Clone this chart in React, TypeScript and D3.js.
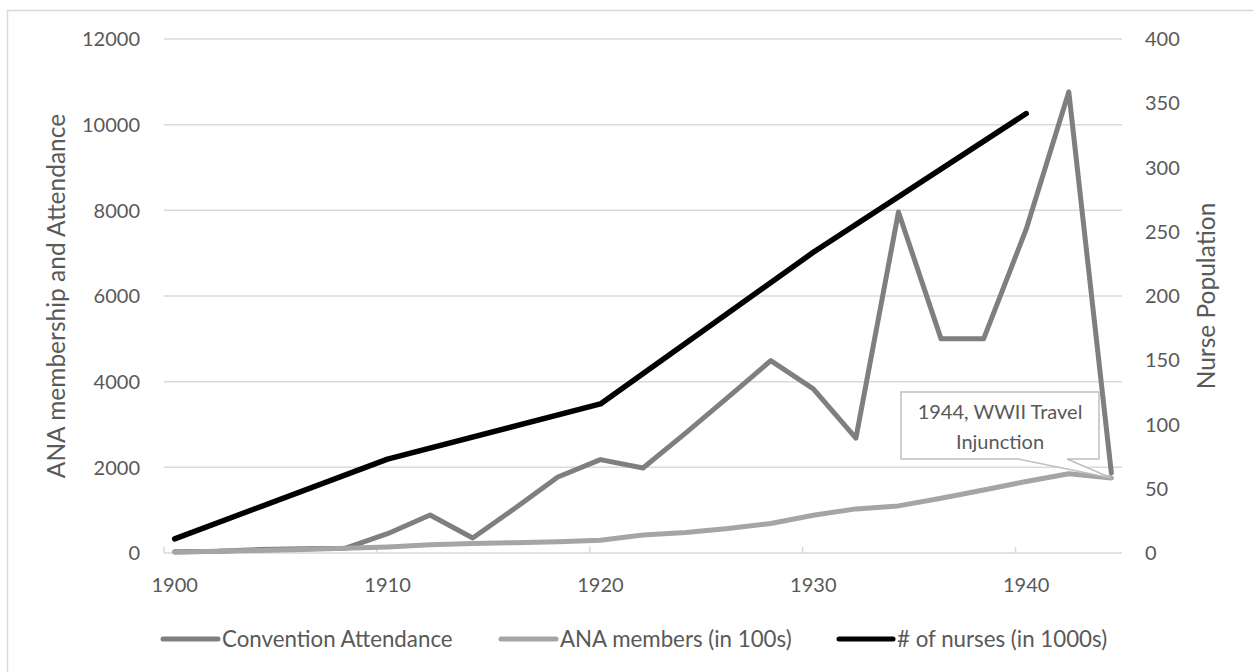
import React from "react";
import * as d3 from "d3";

const years = [1900, 1902, 1904, 1906, 1908, 1910, 1912, 1914, 1916, 1918, 1920, 1922, 1924, 1926, 1928, 1930, 1932, 1934, 1936, 1938, 1940, 1942, 1944];
const conventionAttendance = [30, 40, 80, 100, 110, 450, 887, 350, 1050, 1775, 2180, 1985, 2800, 3640, 4490, 3830, 2680, 7960, 5000, 5000, 7560, 10765, 1870];
const anaMembers = [20, 40, 60, 80, 110, 140, 190, 220, 240, 260, 300, 420, 480, 570, 690, 880, 1030, 1100, 1280, 1470, 1670, 1850, 1750];
const nurseYears = [1900, 1910, 1920, 1930, 1940];
const nurses = [11, 73, 116, 234, 342];

const leftTicks = [0, 2000, 4000, 6000, 8000, 10000, 12000];
const rightTicks = [0, 50, 100, 150, 200, 250, 300, 350, 400];
const xTicks = [1900, 1910, 1920, 1930, 1940];

const seriesNames = ["Convention Attendance", "ANA members (in 100s)", "# of nurses (in 1000s)"];
const seriesColors = ["#7f7f7f", "#a5a5a5", "#000000"];
const annotationLines = ["1944, WWII Travel", "Injunction"];

const FONT = "Lato, 'Open Sans', sans-serif";
const TXT = "#595959";

export default function App() {
  const W = 1253, H = 672;
  const plot = { left: 164, right: 1122, top: 39, bottom: 553 };
  const x = d3.scaleLinear().domain([1900, 1945]).range([plot.left, plot.right]);
  const yL = d3.scaleLinear().domain([0, 12000]).range([plot.bottom, plot.top]);
  const yR = d3.scaleLinear().domain([0, 400]).range([plot.bottom, plot.top]);

  const lineL = d3.line<[number, number]>().x(d => x(d[0] + 0.5)).y(d => yL(d[1]));
  const lineR = d3.line<[number, number]>().x(d => x(d[0] + 0.5)).y(d => yR(d[1]));

  const convPts = years.map((yr, i) => [yr, conventionAttendance[i]] as [number, number]);
  const anaPts = years.map((yr, i) => [yr, anaMembers[i]] as [number, number]);
  const nursePts = nurseYears.map((yr, i) => [yr, nurses[i]] as [number, number]);

  // callout
  const tipX = x(1944 + 0.5);
  const tipY = yL(anaMembers[anaMembers.length - 1]);
  const box = { x0: 901, x1: 1099, y0: 392, y1: 459 };
  const p1 = 1018, p2 = 1067;
  const calloutPath = `M${box.x0},${box.y0} L${box.x1},${box.y0} L${box.x1},${box.y1} L${p2},${box.y1} L${tipX},${tipY} L${p1},${box.y1} L${box.x0},${box.y1} Z`;

  const legendItems = [
    { x1: 163, x2: 218, tx: 222 },
    { x1: 501, x2: 556, tx: 560 },
    { x1: 839, x2: 893, tx: 897 },
  ];

  return (
    <svg width={W} height={H} style={{ position: "absolute", left: 0, top: 0, background: "#fff" }} fontFamily={FONT}>
      <rect x={0} y={0} width={W} height={H} fill="#fff" />
      <rect x={7.5} y={10.5} width={1270} height={700} fill="none" stroke="#d9d9d9" strokeWidth={1.5} />
      {leftTicks.map(t => (
        <line key={"g" + t} x1={plot.left} x2={plot.right} y1={yL(t)} y2={yL(t)} stroke="#d9d9d9" strokeWidth={1.5} />
      ))}
      {xTicks.map(t => (
        <line key={"xt" + t} x1={x(t)} x2={x(t)} y1={plot.bottom} y2={plot.bottom - 6} stroke="#d9d9d9" strokeWidth={1.5} />
      ))}
      {leftTicks.map(t => (
        <text key={"lt" + t} x={140} y={yL(t)} dy="0.36em" textAnchor="end" fontSize={20} fill={TXT}>{t}</text>
      ))}
      {rightTicks.map(t => (
        <text key={"rt" + t} x={1145} y={yR(t)} dy="0.36em" textAnchor="start" fontSize={20} fill={TXT}>{t}</text>
      ))}
      {xTicks.map(t => (
        <text key={"xl" + t} x={x(t + 0.5)} y={585} dy="0.36em" textAnchor="middle" fontSize={20} fill={TXT}>{t}</text>
      ))}
      <text transform={`translate(56,${(plot.top + plot.bottom) / 2}) rotate(-90)`} dy="0.36em" textAnchor="middle" fontSize={24.5} fill={TXT}>ANA membership and Attendance</text>
      <text transform={`translate(1206,${(plot.top + plot.bottom) / 2}) rotate(-90)`} dy="0.36em" textAnchor="middle" fontSize={24.5} fill={TXT}>Nurse Population</text>
      <path d={lineL(convPts) || ""} fill="none" stroke={seriesColors[0]} strokeWidth={5} strokeLinejoin="round" strokeLinecap="round" />
      <path d={lineL(anaPts) || ""} fill="none" stroke={seriesColors[1]} strokeWidth={5} strokeLinejoin="round" strokeLinecap="round" />
      <path d={lineR(nursePts) || ""} fill="none" stroke={seriesColors[2]} strokeWidth={5.5} strokeLinejoin="round" strokeLinecap="round" />
      <path d={calloutPath} fill="#fff" stroke="#bfbfbf" strokeWidth={1.5} />
      {annotationLines.map((s, i) => (
        <text key={"an" + i} x={(box.x0 + box.x1) / 2} y={412 + i * 30} dy="0.36em" textAnchor="middle" fontSize={20} fill={TXT}>{s}</text>
      ))}
      {legendItems.map((it, i) => (
        <g key={"lg" + i}>
          <line x1={it.x1} x2={it.x2} y1={639} y2={639} stroke={seriesColors[i]} strokeWidth={5} strokeLinecap="round" />
          <text x={it.tx} y={639} dy="0.36em" fontSize={22.3} fill={TXT}>{seriesNames[i]}</text>
        </g>
      ))}
    </svg>
  );
}
